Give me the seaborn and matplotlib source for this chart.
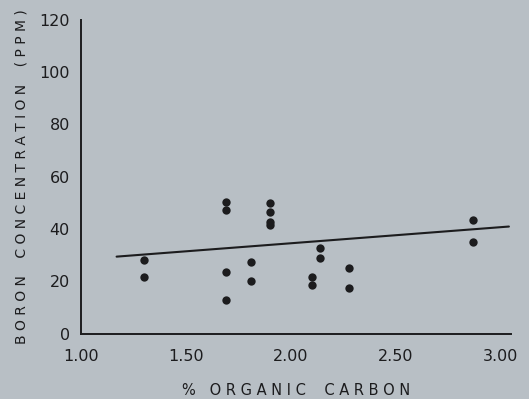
import matplotlib
matplotlib.use("Agg")
import matplotlib.pyplot as plt
import seaborn as sns
import pandas as pd
import numpy as np

# Data
organic_carbon = [1.30, 1.30, 1.69, 1.69, 1.69, 1.69, 1.81, 1.81,
                  1.90, 1.90, 1.90, 1.90, 2.10, 2.10, 2.14, 2.14,
                  2.28, 2.28, 2.87, 2.87]
boron_ppm = [28.0, 21.5, 50.4, 47.3, 23.7, 12.8, 27.2, 20.0,
             49.8, 46.6, 42.8, 41.3, 21.5, 18.4, 32.8, 29.0,
             25.0, 17.6, 43.5, 35.1]
fit_x = [1.17, 3.04]
fit_y = [29.4, 40.9]
x_ticks = [1.00, 1.50, 2.00, 2.50, 3.00]
x_ticklabels = ["1.00", "1.50", "2.00", "2.50", "3.00"]
y_ticks = [0, 20, 40, 60, 80, 100, 120]

bg = "#b8bfc5"
ink = "#1c1c1e"

sns.set_theme(style="white")
plt.rcParams["font.family"] = ["DejaVu Sans"]

fig = plt.figure(figsize=(5.29, 3.99), dpi=100, facecolor=bg)
ax = fig.add_axes([0.153, 0.164, 0.813, 0.787])
ax.set_facecolor(bg)

df = pd.DataFrame({"x": organic_carbon, "y": boron_ppm})
sns.scatterplot(data=df, x="x", y="y", ax=ax, s=36, color=ink,
                edgecolor=ink, linewidth=0, zorder=3)
fit = pd.DataFrame({"x": fit_x, "y": fit_y})
sns.lineplot(data=fit, x="x", y="y", ax=ax, color=ink, linewidth=1.5, zorder=2)

ax.set_xlim(1.0, 3.05)
ax.set_ylim(0, 120)
ax.set_xticks(x_ticks)
ax.set_xticklabels(x_ticklabels)
ax.set_xticks(np.arange(1.25, 3.0, 0.5), minor=True)
ax.set_yticks(y_ticks)
ax.set_yticklabels([str(v) for v in y_ticks])
ax.set_yticks(np.arange(10, 120, 20), minor=True)

for s in ["top", "right"]:
    ax.spines[s].set_visible(False)
for s in ["left", "bottom"]:
    ax.spines[s].set_color(ink)
    ax.spines[s].set_linewidth(1.4)
ax.spines["left"].set_bounds(0, 120)

ax.tick_params(axis="both", which="both", direction="out", color=ink,
               width=1.2, labelcolor=ink, labelsize=11.5)
ax.tick_params(axis="x", which="both", length=5, pad=6)
ax.tick_params(axis="y", which="both", length=4, pad=4)

ax.set_xlabel("%   O R G A N I C    C A R B O N", fontsize=10.5, color=ink,
              labelpad=14)
ax.set_ylabel("B O R O N    C O N C E N T R A T I O N    ( P P M )",
              fontsize=10, color=ink, labelpad=8)

fig.savefig("out.png", dpi=100, facecolor=bg)
